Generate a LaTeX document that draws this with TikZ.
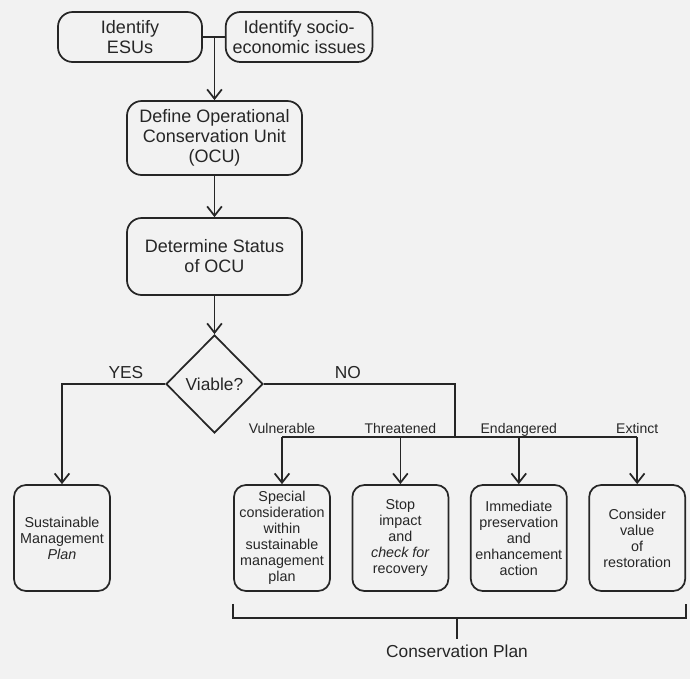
\documentclass[tikz,border=0pt]{standalone}
\usepackage{fontspec}
\setmainfont{Liberation Sans}
\usetikzlibrary{positioning, arrows.meta, shapes.geometric}

\begin{document}
\begin{tikzpicture}[x=0.75pt, y=-0.75pt, node distance=15.5pt, color=black!85, line width=1.3pt,
    box/.style={rectangle, draw, rounded corners=11pt, align=center, inner sep=2pt, font=\fontsize{13.5}{15}\selectfont},
    plan/.style={rectangle, draw, rounded corners=9pt, align=center, inner sep=1pt, minimum width=72pt, minimum height=79.5pt, font=\fontsize{10.75}{12}\selectfont},
    lbl/.style={font=\fontsize{10.5}{12}\selectfont},
    biglbl/.style={font=\fontsize{13}{15}\selectfont},
    flow/.style={-{Straight Barb[length=7pt, width=11pt]}}]
        \path[use as bounding box, fill=black!5] (0,0) rectangle (690,679);
        \node[box, minimum width=108pt, minimum height=37.5pt] (esu) at (130,37) {Identify\\ESUs};
        \node[box, minimum width=110pt, minimum height=37.5pt, right=16.5pt of esu] (socio) {Identify socio-\\economic issues};
        \node[box, minimum width=131.25pt, minimum height=55.5pt] (ocu) at (214.5,138) {Define Operational\\Conservation Unit\\(OCU)};
        \node[box, minimum width=131.25pt, minimum height=57.75pt] (status) at (214.5,256.5) {Determine Status\\of OCU};
        \node[diamond, draw, minimum width=72.75pt, minimum height=73.5pt, inner sep=0pt, biglbl] (viable) at (214.5,384) {Viable?};
        \node[plan] (sustain) at (62,538) {Sustainable\\Management\\\textit{Plan}};
        \node[plan] (special) at (282,538) {Special\\consideration\\within\\sustainable\\management\\plan};
        \node[plan, right=of special] (stop) {Stop\\impact\\and\\\textit{check for}\\recovery};
        \node[plan, right=of stop] (immediate) {Immediate\\preservation\\and\\enhancement\\action};
        \node[plan, right=of immediate] (consider) {Consider\\value\\of\\restoration};
        \coordinate (split) at (455,437);
        \coordinate (brk) at ([yshift=-19.5pt]special.south west);
        \node[biglbl] (cplan) at (457,651) {Conservation Plan};
        % Arrows
        \draw (esu) -- (socio);
        \draw[flow] (esu.east -| ocu.north) -- (ocu.north);
        \draw[flow] (ocu) -- (status);
        \draw[flow] (status) -- (viable);
        \draw[flow] (viable.west) -| (sustain.north) node[pos=0.19, above, biglbl] (yes) {YES};
        \draw (viable.east) -| (split) node[pos=0.22, above, biglbl] (no) {NO};
        \draw (special.north |- split) -- (consider.north |- split);
        \draw[flow] (special.north |- split) -- (special.north) node[pos=0, anchor=base, yshift=3pt, lbl] (vul) {Vulnerable};
        \draw[flow] (stop.north |- split) -- (stop.north) node[pos=0, anchor=base, yshift=3pt, lbl] (thr) {Threatened};
        \draw[flow] (immediate.north |- split) -- (immediate.north) node[pos=0, anchor=base, yshift=3pt, lbl] (end) {Endangered};
        \draw[flow] (consider.north |- split) -- (consider.north) node[pos=0, anchor=base, yshift=3pt, lbl] (ext) {Extinct};
        % Bracket
        \draw ([yshift=-9pt]special.south west) -- (brk) -- (brk -| consider.south east) -- ([yshift=-9pt]consider.south east);
        \draw (cplan.north |- brk) -- (cplan.north);
    \end{tikzpicture}
\end{document}
